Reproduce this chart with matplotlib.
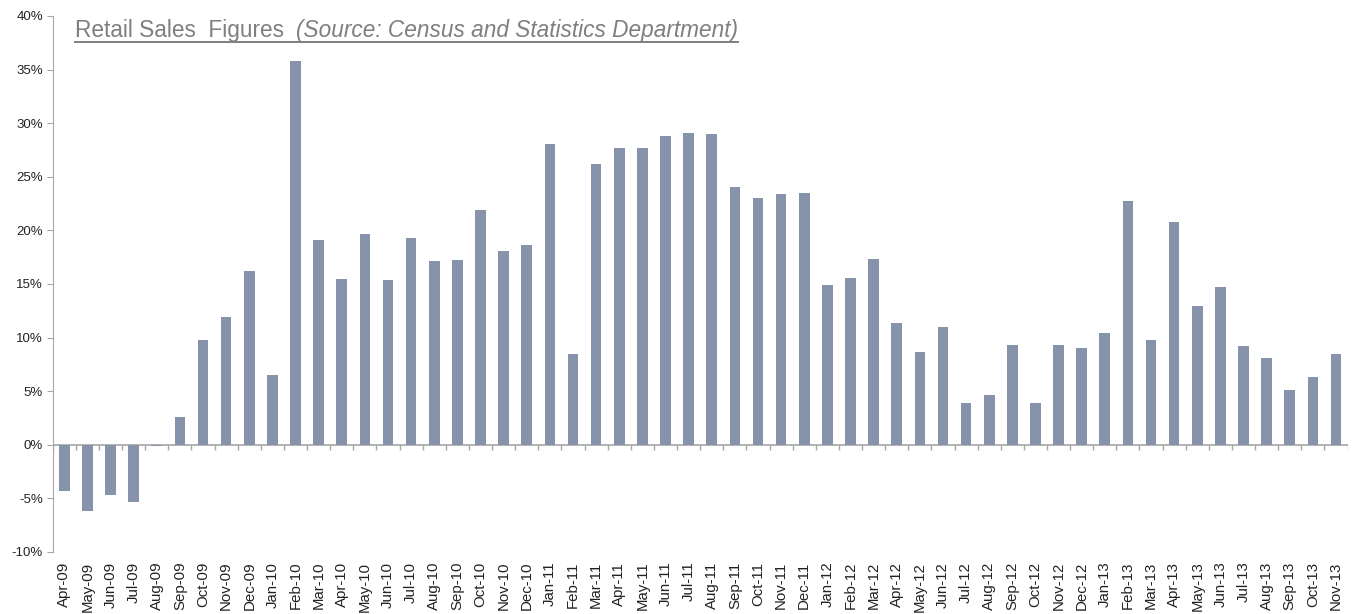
import matplotlib
matplotlib.use("Agg")
import matplotlib.pyplot as plt
import numpy as np

months = ["Apr-09", "May-09", "Jun-09", "Jul-09", "Aug-09", "Sep-09", "Oct-09", "Nov-09", "Dec-09",
          "Jan-10", "Feb-10", "Mar-10", "Apr-10", "May-10", "Jun-10", "Jul-10", "Aug-10", "Sep-10",
          "Oct-10", "Nov-10", "Dec-10",
          "Jan-11", "Feb-11", "Mar-11", "Apr-11", "May-11", "Jun-11", "Jul-11", "Aug-11", "Sep-11",
          "Oct-11", "Nov-11", "Dec-11",
          "Jan-12", "Feb-12", "Mar-12", "Apr-12", "May-12", "Jun-12", "Jul-12", "Aug-12", "Sep-12",
          "Oct-12", "Nov-12", "Dec-12",
          "Jan-13", "Feb-13", "Mar-13", "Apr-13", "May-13", "Jun-13", "Jul-13", "Aug-13", "Sep-13",
          "Oct-13", "Nov-13"]

growth = [-4.3, -6.2, -4.7, -5.3, -0.1, 2.6, 9.8, 11.9, 16.2,
          6.5, 35.8, 19.1, 15.5, 19.7, 15.4, 19.3, 17.1, 17.2, 21.9, 18.1, 18.6,
          28.1, 8.5, 26.2, 27.7, 27.7, 28.8, 29.1, 29.0, 24.0, 23.0, 23.4, 23.5,
          14.9, 15.6, 17.3, 11.4, 8.7, 11.0, 3.9, 4.6, 9.3, 3.9, 9.3, 9.0,
          10.4, 22.7, 9.8, 20.8, 12.9, 14.7, 9.2, 8.1, 5.1, 6.3, 8.5]

yticks = [-10, -5, 0, 5, 10, 15, 20, 25, 30, 35, 40]

plt.rcParams['font.family'] = ['Liberation Sans', 'DejaVu Sans']

fig = plt.figure(figsize=(13.53, 6.14), dpi=100)
ax = fig.add_axes([0.039, 0.101, 0.957, 0.873])

x = np.arange(len(months))
ax.bar(x, growth, width=0.46, color="#8793ab", zorder=3)

ax.set_xlim(-0.5, len(months) - 0.5)
ax.set_ylim(-10, 40)

# zero line with category tick marks
ax.axhline(0, color="#a6a6a6", lw=1.2, zorder=2)
ax.vlines(np.arange(len(months) + 1) - 0.5, -0.45, 0, color="#a6a6a6", lw=1, zorder=2)

ax.set_xticks(x)
ax.set_xticklabels(months, rotation=90, fontsize=10.8, color="#222222")
ax.tick_params(axis="x", length=0, pad=7)

ax.set_yticks(yticks)
ax.set_yticklabels([f"{v}%" for v in yticks], fontsize=9.5, color="#222222")
ax.tick_params(axis="y", length=4, color="#a6a6a6", pad=3)

for s in ["top", "right", "bottom"]:
    ax.spines[s].set_visible(False)
ax.spines["left"].set_color("#a6a6a6")

# title with underline
base_y = 1 - 37 / 614
t1 = fig.text(75 / 1353, base_y, "Retail Sales  Figures  ", fontsize=16.3, color="#7f7f7f",
              va="baseline")
fig.canvas.draw()
bb1 = t1.get_window_extent()
x2 = bb1.x1 / fig.bbox.width
t2 = fig.text(x2, base_y, "(Source: Census and Statistics Department)", fontsize=16.3,
              color="#7f7f7f", style="italic", va="baseline")
fig.canvas.draw()
bb2 = t2.get_window_extent()
yline = base_y - 5 / fig.bbox.height
fig.add_artist(plt.Line2D([bb1.x0 / fig.bbox.width, bb2.x1 / fig.bbox.width], [yline, yline],
                          color="#7f7f7f", lw=1.4))

fig.savefig("out.png", dpi=100)
